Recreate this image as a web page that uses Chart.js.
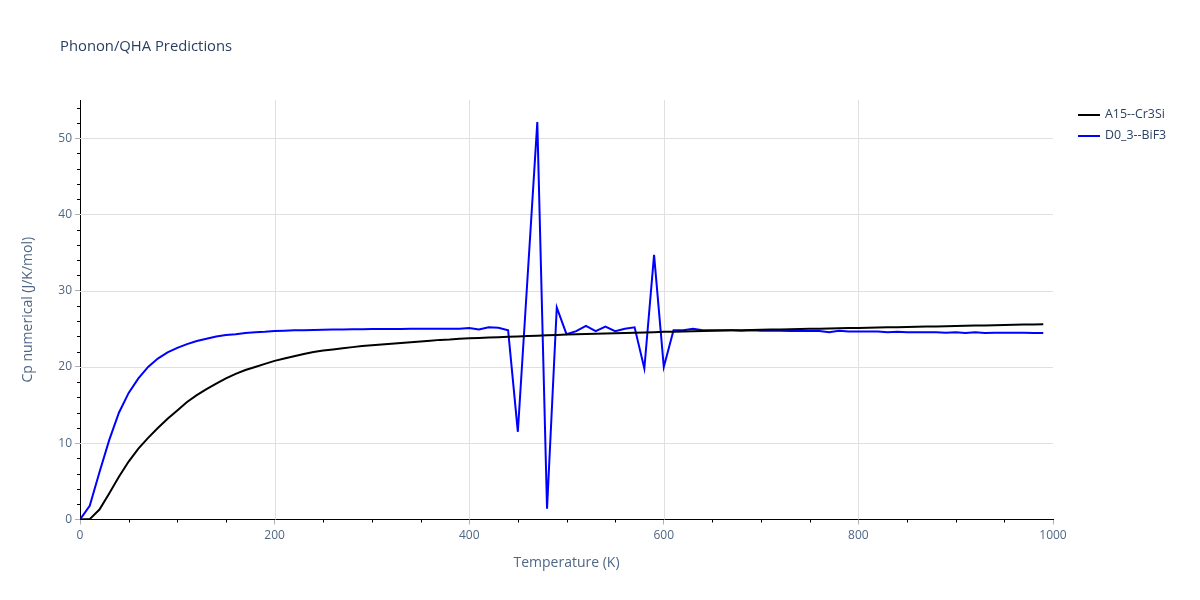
<!DOCTYPE html>
<html>
<head>
<meta charset="utf-8">
<script src="https://cdn.jsdelivr.net/npm/chart.js@4/dist/chart.umd.min.js"></script>
<style>
  body { margin: 0; background: #fff; font-family: "Open Sans", sans-serif; }
  #wrap { position: relative; width: 1200px; height: 600px; }
  #title { position: absolute; left: 60px; top: 35px; font-size: 14.8px; color: #2a3f5f; }
  .leg { position: absolute; left: 1078px; font-size: 12.4px; color: #2a3f5f; white-space: nowrap; }
  .leg span { display: inline-block; width: 22px; height: 2px; vertical-align: middle; margin-right: 5px; }
</style>
</head>
<body>
<div id="wrap">
  <canvas id="chart" width="1200" height="600"></canvas>
  <div id="title">Phonon/QHA Predictions</div>
  <div class="leg" style="top:105px"><span style="background:#000"></span>A15--Cr3Si</div>
  <div class="leg" style="top:126px"><span style="background:#0000ff"></span>D0_3--BiF3</div>
</div>
<script>
const temps = [0, 10, 20, 30, 40, 50, 60, 70, 80, 90,
  100, 110, 120, 130, 140, 150, 160, 170, 180, 190,
  200, 210, 220, 230, 240, 250, 260, 270, 280, 290,
  300, 310, 320, 330, 340, 350, 360, 370, 380, 390,
  400, 410, 420, 430, 440, 450, 460, 470, 480, 490,
  500, 510, 520, 530, 540, 550, 560, 570, 580, 590,
  600, 610, 620, 630, 640, 650, 660, 670, 680, 690,
  700, 710, 720, 730, 740, 750, 760, 770, 780, 790,
  800, 810, 820, 830, 840, 850, 860, 870, 880, 890,
  900, 910, 920, 930, 940, 950, 960, 970, 980, 990];

const cr3si = [0, 0.05, 1.3, 3.4, 5.6, 7.6, 9.3, 10.7, 12.0, 13.2,
  14.3, 15.4, 16.3, 17.1, 17.8, 18.5, 19.1, 19.6, 20.0, 20.4,
  20.8, 21.1, 21.4, 21.7, 21.95, 22.15, 22.3, 22.45, 22.6, 22.75,
  22.85, 22.95, 23.05, 23.15, 23.25, 23.35, 23.45, 23.55, 23.6, 23.7,
  23.75, 23.8, 23.85, 23.9, 23.95, 24.0, 24.05, 24.1, 24.15, 24.2,
  24.25, 24.3, 24.33, 24.36, 24.4, 24.43, 24.46, 24.5, 24.53, 24.56,
  24.6, 24.63, 24.66, 24.69, 24.72, 24.75, 24.78, 24.8, 24.82, 24.85,
  24.87, 24.9, 24.92, 24.95, 24.97, 25.0, 25.02, 25.05, 25.07, 25.1,
  25.12, 25.15, 25.17, 25.2, 25.22, 25.25, 25.27, 25.3, 25.32, 25.35,
  25.37, 25.4, 25.42, 25.45, 25.47, 25.5, 25.52, 25.55, 25.57, 25.6];

const bif3 = [0, 1.8, 6.2, 10.4, 14.0, 16.6, 18.5, 20.0, 21.1, 21.9,
  22.5, 23.0, 23.4, 23.7, 24.0, 24.2, 24.3, 24.45, 24.55, 24.6,
  24.7, 24.75, 24.8, 24.82, 24.85, 24.88, 24.9, 24.92, 24.94, 24.95,
  24.96, 24.97, 24.98, 24.99, 25.0, 25.0, 25.0, 25.0, 25.0, 25.0,
  25.1, 24.9, 25.2, 25.15, 24.8, 11.5, 31.8, 52.1, 1.4, 27.8,
  24.3, 24.7, 25.4, 24.7, 25.3, 24.7, 25.0, 25.2, 19.8, 34.7,
  20.0, 24.8, 24.8, 25.0, 24.8, 24.8, 24.8, 24.8, 24.75, 24.8,
  24.75, 24.75, 24.75, 24.7, 24.7, 24.7, 24.7, 24.55, 24.75, 24.65,
  24.65, 24.65, 24.65, 24.55, 24.6, 24.55, 24.55, 24.55, 24.55, 24.5,
  24.55, 24.45, 24.55, 24.45, 24.5, 24.5, 24.5, 24.5, 24.45, 24.45];

const xTicks = [0, 200, 400, 600, 800, 1000];
const xGrid = [200, 400, 600, 800];
const yTicks = [0, 10, 20, 30, 40, 50];
const yGrid = [10, 20, 30, 40, 50];

const tickFont = { family: "Open Sans", size: 12 };
const titleFont = { family: "Open Sans", size: 14 };

// grid lines drawn inside the plot only, plus small black minor ticks
const axisExtras = {
  id: "axisExtras",
  beforeDatasetsDraw(c) {
    const ctx = c.ctx, xs = c.scales.x, ys = c.scales.y, area = c.chartArea;
    ctx.save();
    ctx.strokeStyle = "#e0e0e0";
    ctx.lineWidth = 1;
    ctx.beginPath();
    xGrid.forEach(v => {
      const px = Math.round(xs.getPixelForValue(v)) + 0.5;
      ctx.moveTo(px, area.top);
      ctx.lineTo(px, area.bottom);
    });
    yGrid.forEach(v => {
      const py = Math.round(ys.getPixelForValue(v)) + 0.5;
      ctx.moveTo(area.left, py);
      ctx.lineTo(area.right, py);
    });
    ctx.stroke();
    ctx.restore();
  },
  afterDraw(c) {
    const ctx = c.ctx, xs = c.scales.x, ys = c.scales.y;
    const area = c.chartArea;
    ctx.save();
    ctx.strokeStyle = "#000";
    ctx.lineWidth = 1;
    ctx.beginPath();
    for (let v = 50; v < 1000; v += 50) {
      if (v % 200 === 0) continue;
      const px = Math.round(xs.getPixelForValue(v)) + 0.5;
      ctx.moveTo(px, area.bottom);
      ctx.lineTo(px, area.bottom + 3);
    }
    for (let v = 2; v < 55; v += 2) {
      if (v % 10 === 0) continue;
      const py = Math.round(ys.getPixelForValue(v)) + 0.5;
      ctx.moveTo(area.left, py);
      ctx.lineTo(area.left - 3, py);
    }
    ctx.stroke();
    ctx.restore();
  }
};

new Chart(document.getElementById("chart"), {
  type: "line",
  data: {
    datasets: [
      {
        label: "A15--Cr3Si",
        data: temps.map((t, i) => ({ x: t, y: cr3si[i] })),
        borderColor: "#000000",
        borderWidth: 2,
        pointRadius: 0,
        tension: 0,
        fill: false
      },
      {
        label: "D0_3--BiF3",
        data: temps.map((t, i) => ({ x: t, y: bif3[i] })),
        borderColor: "#0000ff",
        borderWidth: 2,
        pointRadius: 0,
        tension: 0,
        fill: false
      }
    ]
  },
  options: {
    responsive: false,
    animation: false,
    layout: { padding: { left: 0, right: 147, top: 100, bottom: 0 } },
    plugins: { legend: { display: false }, title: { display: false }, tooltip: { enabled: false } },
    scales: {
      x: {
        type: "linear",
        min: 0,
        max: 1000,
        afterBuildTicks: s => { s.ticks = xTicks.map(v => ({ value: v })); },
        afterFit: s => { s.height = 80.5; },
        ticks: { font: tickFont, color: "#506784", padding: 4, maxRotation: 0, callback: v => String(v) },
        grid: { drawOnChartArea: false, tickColor: "#b0b0b0", tickLength: 5 },
        border: { color: "#000", width: 1 },
        title: { display: true, text: "Temperature (K)", font: titleFont, color: "#506784", padding: { top: 4, bottom: 28.6 } }
      },
      y: {
        min: 0,
        max: 55,
        afterBuildTicks: s => { s.ticks = yTicks.map(v => ({ value: v })); },
        afterFit: s => { s.width = 80; },
        ticks: { font: tickFont, color: "#506784", padding: 3 },
        grid: { drawOnChartArea: false, tickColor: "#b0b0b0", tickLength: 5 },
        border: { color: "#000", width: 1 },
        title: { display: true, text: "Cp numerical (J/K/mol)", font: titleFont, color: "#506784", padding: { top: 19.6 } }
      }
    }
  },
  plugins: [axisExtras]
});
</script>
</body>
</html>
